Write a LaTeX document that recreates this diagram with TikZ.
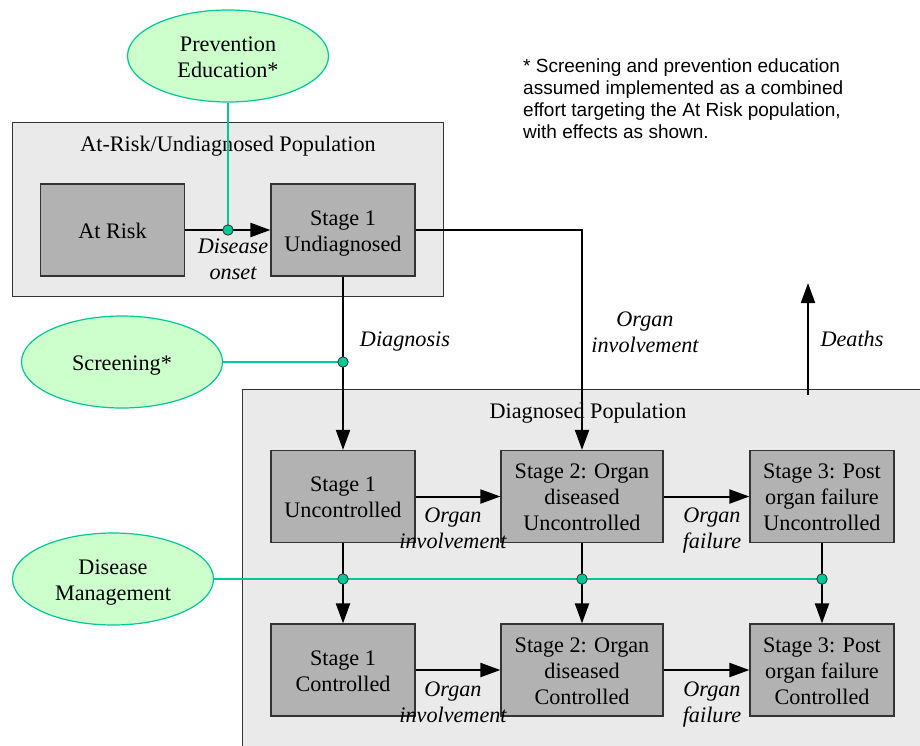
\documentclass[tikz,border=0pt]{standalone}
\usepackage{fontspec}
\setmainfont{Liberation Serif}
\newfontfamily\notefont{Liberation Sans}
\usetikzlibrary{shapes.geometric,arrows.meta}

\definecolor{teal}{RGB}{0,200,150}
\definecolor{leaf}{RGB}{204,255,204}
\definecolor{stagegray}{RGB}{178,178,178}
\definecolor{panelgray}{RGB}{234,234,234}
\definecolor{edgegray}{RGB}{51,51,51}

% every text line occupies one full 26pt line box
\newcommand\ls{\rule[-5pt]{0pt}{26pt}}

\tikzset{
  txt/.style={font=\fontsize{22.2}{26}\selectfont, align=center, inner sep=0pt},
  lbl/.style={font=\itshape\fontsize{22.2}{26}\selectfont, align=center, inner sep=0pt},
  stagebox/.style={txt, draw=edgegray, fill=stagegray, line width=1.2pt,
    minimum height=92pt},
  narrowbox/.style={stagebox, minimum width=144pt},
  widebox/.style={stagebox, minimum width=162pt},
  panel/.style={draw=edgegray, fill=panelgray, line width=1pt},
  lever/.style={txt, ellipse, draw=teal, fill=leaf, line width=1.2pt,
    minimum width=201pt, minimum height=92pt},
  flow/.style={line width=2pt, -{Triangle[length=20pt,width=14pt]}},
  link/.style={draw=teal, line width=2pt},
  knot/.style={circle, fill=teal, draw=edgegray, line width=0.8pt, inner sep=0pt, minimum size=10.5pt}
}

\begin{document}
\begin{tikzpicture}[x=1pt,y=-1pt]
\useasboundingbox (0,0) rectangle (920,745);

% population panels
\draw[panel] (12,122) rectangle (443,296);
\node[txt] (atriskpop) at (228,143) {\ls At-Risk/Undiagnosed Population};
\draw[panel] (242,389) rectangle (935,760);
\node[txt] (diagpop) at (588,410) {\ls Diagnosed Population};

% note (anchored on the baseline of its last line)
\node[anchor=base west, align=left, inner sep=0pt,
      font=\notefont\fontsize{19}{21.7}\selectfont] (note) at (523,138)
  {* Screening and prevention education\\
   assumed implemented as a combined\\
   effort targeting the At Risk population,\\
   with effects as shown.};

% interventions
\node[lever] (prev) at (228,56) {\ls Prevention\\\ls Education*};
\node[lever] (scr) at (122,362) {\ls Screening*};
\node[lever] (dm) at (113,579) {\ls Disease\\\ls Management};

% disease stages
\node[narrowbox] (atrisk) at (112.5,230) {\ls At Risk};
\node[narrowbox] (s1u) at (343,230) {\ls Stage 1\\\ls Undiagnosed};
\node[narrowbox] (s1unc) at (343,496.5) {\ls Stage 1\\\ls Uncontrolled};
\node[widebox] (s2unc) at (582,496.5) {\ls Stage 2: Organ\\\ls diseased\\\ls Uncontrolled};
\node[narrowbox] (s3unc) at (822,496.5) {\ls Stage 3: Post\\\ls organ failure\\\ls Uncontrolled};
\node[narrowbox] (s1c) at (343,670) {\ls Stage 1\\\ls Controlled};
\node[widebox] (s2c) at (582,670) {\ls Stage 2: Organ\\\ls diseased\\\ls Controlled};
\node[narrowbox] (s3c) at (822,670) {\ls Stage 3: Post\\\ls organ failure\\\ls Controlled};

% junctions where interventions act
\coordinate (jonset) at (228,230);
\coordinate (jdiag) at (s1u.south |- scr.east);
\coordinate (jm1) at (s1unc.south |- dm.east);
\coordinate (jm2) at (s2unc.south |- dm.east);
\coordinate (jm3) at (s3unc.south |- dm.east);
\coordinate (dstart) at (808,395);
\coordinate (dend) at (808,283);

% intervention links
\draw[link] (prev.south) -- (jonset);
\draw[link] (scr.east) -- (jdiag);

% flows
\draw[flow] (atrisk.east) -- (s1u.west);
\draw[flow] (s1u.south) -- (s1unc.north);
\draw[flow] (s1u.east) -| (s2unc.north);
\draw[flow] (dstart) -- (dend);
\draw[flow] (s1unc.east) -- (s2unc.west);
\draw[flow] (s2unc.east) -- (s3unc.west);
\draw[flow] (s1c.east) -- (s2c.west);
\draw[flow] (s2c.east) -- (s3c.west);
\draw[flow] (s1unc.south) -- (s1c.north);
\draw[flow] (s2unc.south) -- (s2c.north);
\draw[flow] (s3unc.south) -- (s3c.north);

\draw[link] (dm.east) -- (jm3);

\node[knot] (konset) at (jonset) {};
\node[knot] (kdiag) at (jdiag) {};
\node[knot] (km1) at (jm1) {};
\node[knot] (km2) at (jm2) {};
\node[knot] (km3) at (jm3) {};

% flow labels
\node[lbl] (lonset) at (233,258) {\ls Disease\\\ls onset};
\node[lbl] (ldiag) at (405,338) {\ls Diagnosis};
\node[lbl] (linv0) at (645,331) {\ls Organ\\\ls involvement};
\node[lbl] (ldeath) at (852,338) {\ls Deaths};
\node[lbl] (linv1) at (453,527.5) {\ls Organ\\\ls involvement};
\node[lbl] (lfail1) at (712,527.5) {\ls Organ\\\ls failure};
\node[lbl] (linv2) at (453,701) {\ls Organ\\\ls involvement};
\node[lbl] (lfail2) at (712,701) {\ls Organ\\\ls failure};
\end{tikzpicture}
\end{document}
